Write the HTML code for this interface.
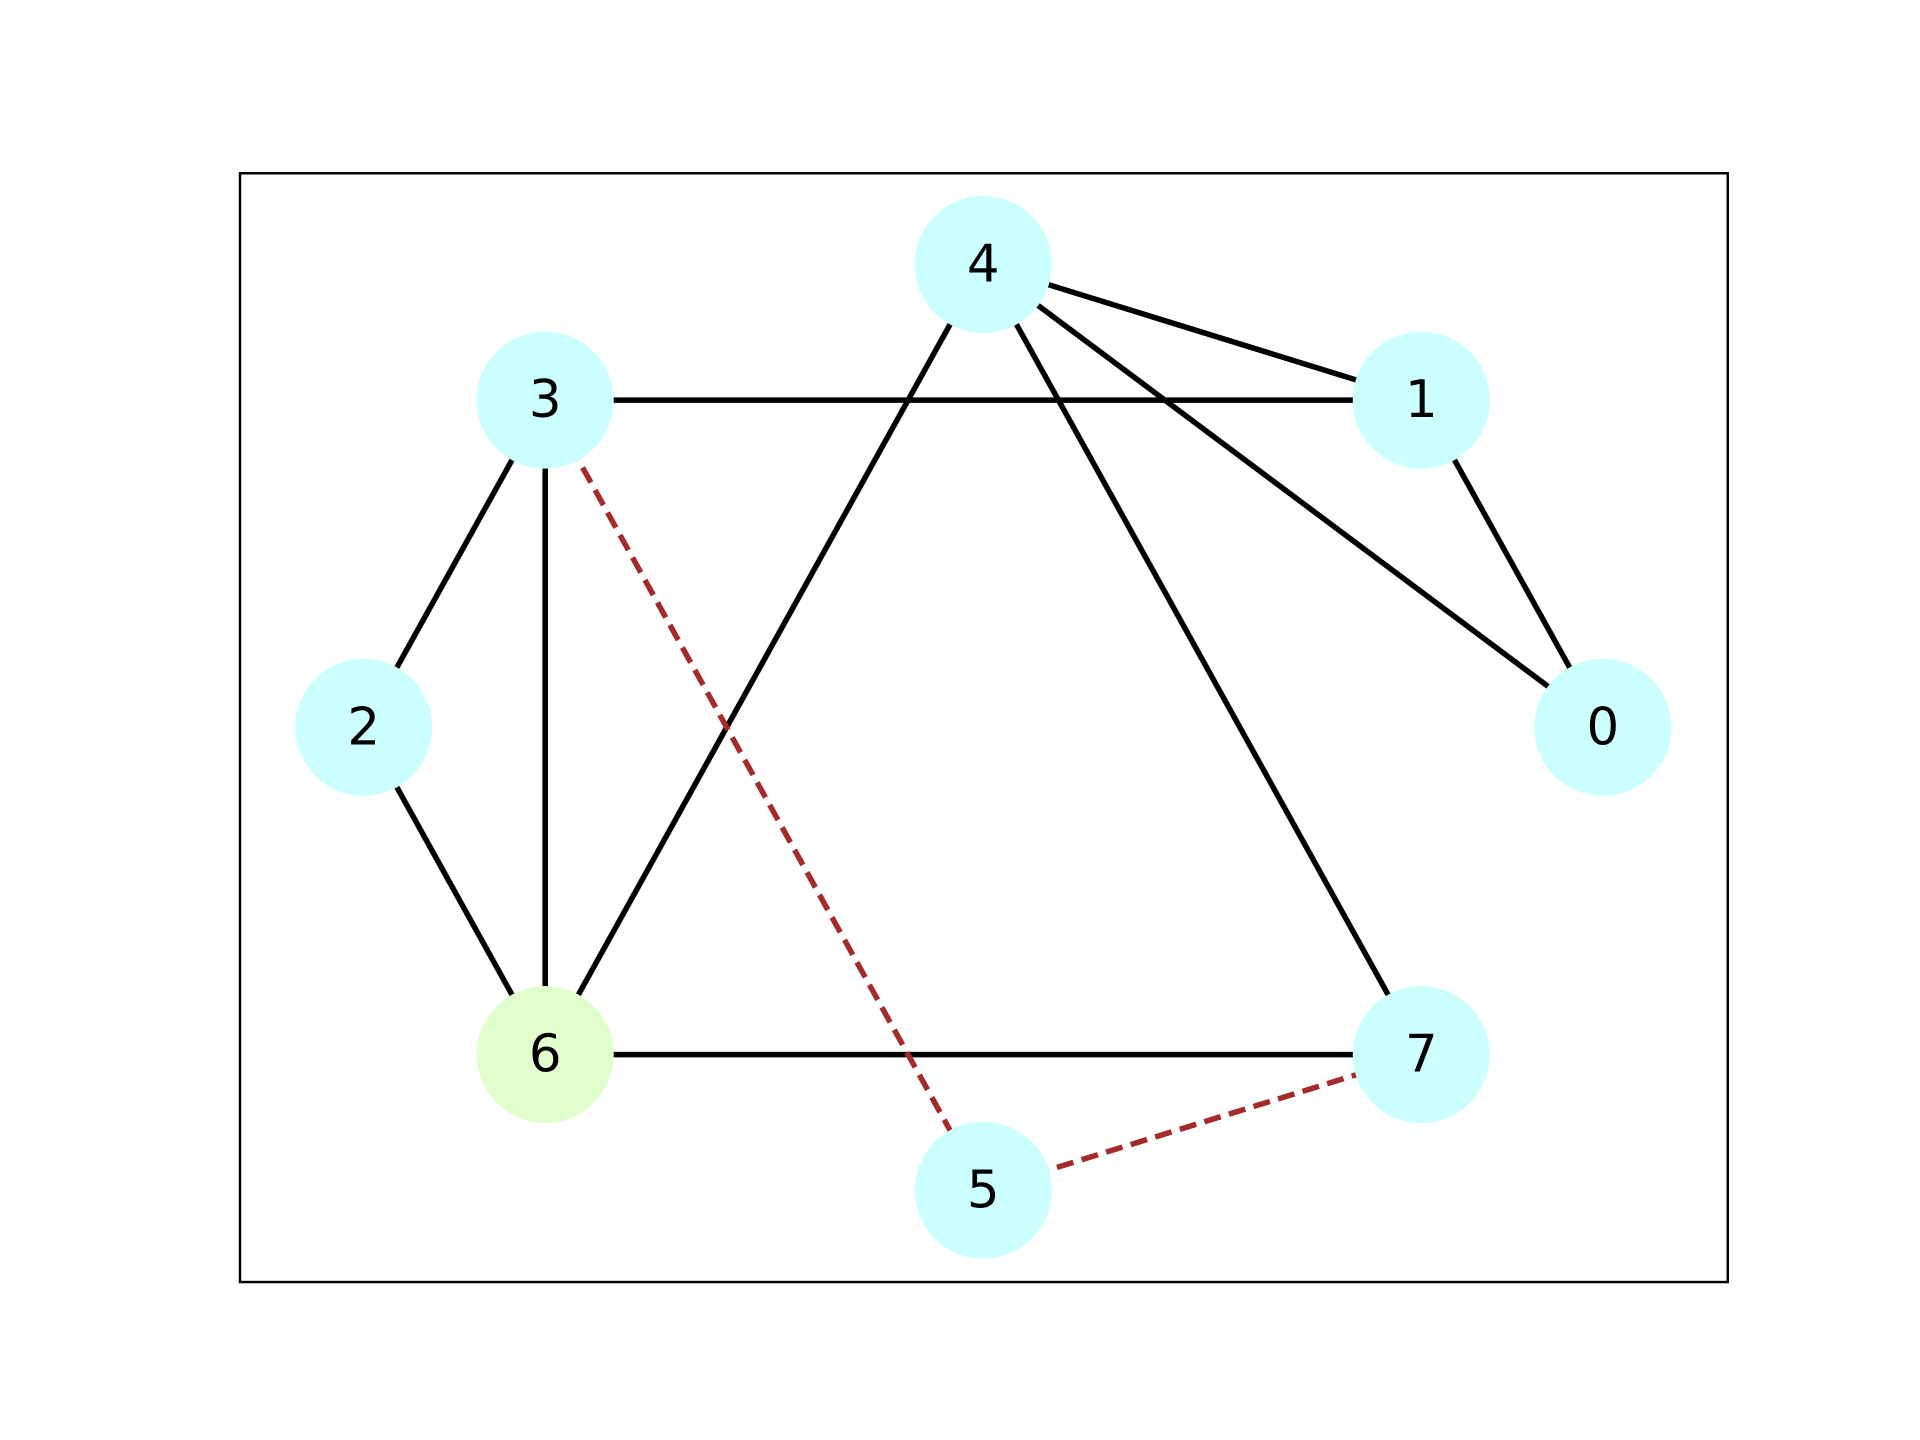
<!DOCTYPE html>
<html>
<head>
<meta charset="utf-8">
<style>
html,body{margin:0;padding:0;background:#fff;}
svg{display:block;}
</style>
</head>
<body>
<svg id="chart" width="1920" height="1440" viewBox="0 0 1568 1176" xmlns="http://www.w3.org/2000/svg">
  <rect x="0" y="0" width="1568" height="1176" fill="#ffffff"/>
  <rect x="196" y="141.5" width="1215" height="905.5" fill="none" stroke="#000" stroke-width="2"/>
  <g id="edges"></g>
  <g id="nodes"></g>
</svg>
<script>
const nodeIds = [0,1,2,3,4,5,6,7];
const nodeX = [1.0, 0.707, -1.0, -0.707, 0.0, 0.0, -0.707, 0.707];
const nodeY = [0.0, 0.707, 0.0, 0.707, 1.0, -1.0, -0.707, -0.707];
const nodeColors = ['#ccffff','#ccffff','#ccffff','#ccffff','#ccffff','#ccffff','#e0ffcc','#ccffff'];
const solidEdges = [[4,1],[4,0],[4,6],[4,7],[3,1],[1,0],[3,2],[3,6],[2,6],[6,7]];
const dashedEdges = [[3,5],[5,7]];

function xAxis(v){ return 803 + v*506; }
function yAxis(v){ return 594 - v*378; }

const NS = 'http://www.w3.org/2000/svg';
const eg = document.getElementById('edges');
const ng = document.getElementById('nodes');

function addEdge(e, dashed){
  const l = document.createElementNS(NS,'line');
  l.setAttribute('x1', xAxis(nodeX[e[0]]));
  l.setAttribute('y1', yAxis(nodeY[e[0]]));
  l.setAttribute('x2', xAxis(nodeX[e[1]]));
  l.setAttribute('y2', yAxis(nodeY[e[1]]));
  l.setAttribute('stroke', dashed ? '#a52a2a' : '#000000');
  l.setAttribute('stroke-width', '4.5');
  if (dashed) l.setAttribute('stroke-dasharray', '14 7');
  
  
  eg.appendChild(l);
}
solidEdges.forEach(e => addEdge(e, false));
dashedEdges.forEach(e => addEdge(e, true));

nodeIds.forEach((id, i) => {
  const g = document.createElementNS(NS,'g');
  
  
  const c = document.createElementNS(NS,'circle');
  c.setAttribute('cx', xAxis(nodeX[i]));
  c.setAttribute('cy', yAxis(nodeY[i]));
  c.setAttribute('r', 56);
  c.setAttribute('fill', nodeColors[i]);
  
  
  g.appendChild(c);
  const t = document.createElementNS(NS,'text');
  t.setAttribute('x', xAxis(nodeX[i]));
  t.setAttribute('y', yAxis(nodeY[i]) + 14);
  t.setAttribute('text-anchor', 'middle');
  t.setAttribute('font-family', '"DejaVu Sans", "Liberation Sans", sans-serif');
  t.setAttribute('font-size', '42');
  t.setAttribute('fill', '#000');
  
  
  t.textContent = String(id);
  g.appendChild(t);
  ng.appendChild(g);
});
</script>
</body>
</html>
